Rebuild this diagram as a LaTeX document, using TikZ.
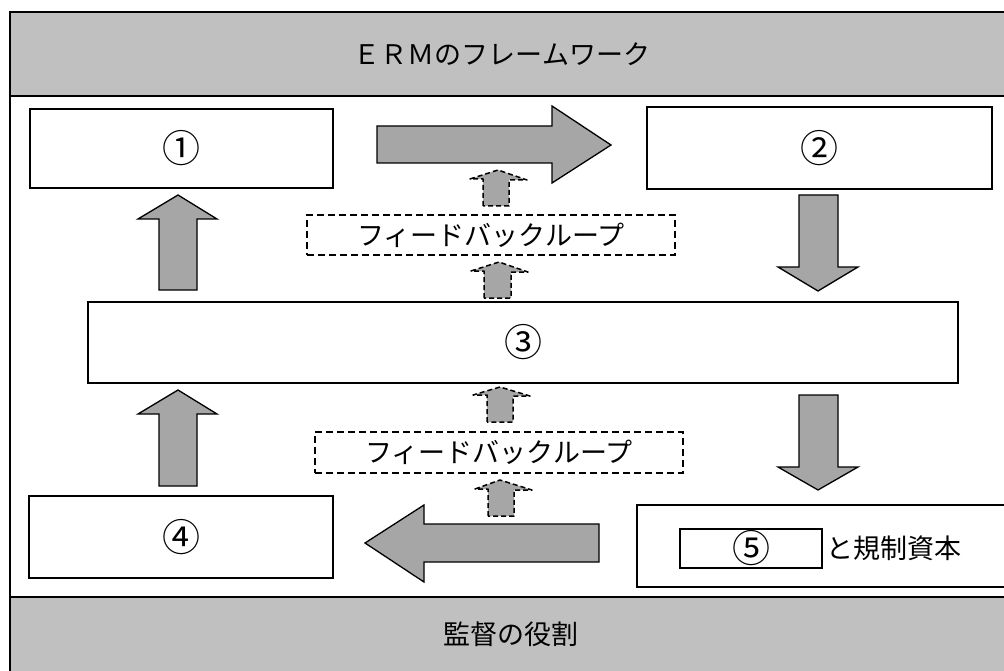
\documentclass[tikz,border=0pt]{standalone}
\usepackage{fontspec}
\setmainfont{Noto Sans CJK JP}
\definecolor{bandgray}{HTML}{C0C0C0}
\definecolor{arrowgray}{HTML}{A6A6A6}
\newcommand{\circnum}[1]{{\fontsize{38}{38}\selectfont #1}}
\begin{document}
\begin{tikzpicture}[x=1pt,y=-1pt,
  every node/.style={font=\fontsize{27}{30}\selectfont},
  box/.style={draw,line width=1.3pt,fill=white,inner sep=0pt},
  fbbox/.style={draw,line width=1.5pt,dash pattern=on 7pt off 4pt,inner sep=0pt},
  blockarrow/.style={draw,line width=1.3pt,fill=arrowgray,line join=miter},
  fbarrow/.style={draw,line width=1.5pt,fill=arrowgray,dash pattern=on 5pt off 3pt,line join=round}]
\useasboundingbox (0,0) rectangle (1004,671);
% frame and bands
\draw[line width=1.5pt,fill=white] (10,12) rectangle (1030,700);
\draw[line width=1.8pt,fill=bandgray] (10,12) rectangle (1030,96);
\draw[line width=1.8pt,fill=bandgray] (10,597) rectangle (1030,700);
\node (title) at (502,54) {ＥＲＭのフレームワーク};
\node (role) at (511,634) {監督の役割};
% boxes
\node[box,minimum width=303pt,minimum height=79pt] (b1) at (181.5,148.5) {\circnum{①}};
\node[box,minimum width=345pt,minimum height=82pt] (b2) at (819.5,148) {\circnum{②}};
\node[box,minimum width=870pt,minimum height=81pt] (b3) at (523,342.5) {\circnum{③}};
\node[box,minimum width=304pt,minimum height=82pt] (b4) at (181,537) {\circnum{④}};
\node[box,minimum width=393pt,minimum height=82pt] (b5) at (833.5,546) {};
\node[box,minimum width=142pt,minimum height=39pt] (b5in) at (751,548.5) {\circnum{⑤}};
\node[anchor=west,inner sep=0pt] (b5txt) at (826,548) {と規制資本};
% feedback boxes
\node[fbbox,minimum width=368pt,minimum height=40pt] (fb1) at (491,235) {フィードバックループ};
\node[fbbox,minimum width=368pt,minimum height=41pt] (fb2) at (499,452.5) {フィードバックループ};
% big block arrows
\draw[blockarrow] (377,126) -- (552,126) -- (552,106) -- (611,145) -- (552,183) -- (552,163) -- (377,163) -- cycle;
\draw[blockarrow] (159,290) -- (159,219) -- (138,219) -- (178,195) -- (217,219) -- (197,219) -- (197,290) -- cycle;
\draw[blockarrow] (159,486) -- (159,414) -- (138,414) -- (178,390) -- (217,414) -- (197,414) -- (197,486) -- cycle;
\draw[blockarrow] (799,195) -- (838,195) -- (838,267) -- (858,267) -- (818,291) -- (778,267) -- (799,267) -- cycle;
\draw[blockarrow] (799,395) -- (838,395) -- (838,467) -- (858,467) -- (818,490) -- (778,467) -- (799,467) -- cycle;
\draw[blockarrow] (599,524) -- (424,524) -- (424,505) -- (365,543) -- (424,582) -- (424,562) -- (599,562) -- cycle;
% small dashed feedback arrows
\draw[fbarrow] (483,206) -- (483,179) -- (470,179) -- (498,170) -- (527,180) -- (509,180) -- (509,206) -- cycle;
\draw[fbarrow] (484,298) -- (484,271) -- (471,271) -- (499,262) -- (528,272) -- (511,272) -- (511,298) -- cycle;
\draw[fbarrow] (487,422) -- (487,395) -- (473,395) -- (500,387) -- (530,396) -- (513,396) -- (513,422) -- cycle;
\draw[fbarrow] (488,516) -- (488,489) -- (475,489) -- (500,480) -- (532,490) -- (514,490) -- (514,516) -- cycle;
\end{tikzpicture}
\end{document}
